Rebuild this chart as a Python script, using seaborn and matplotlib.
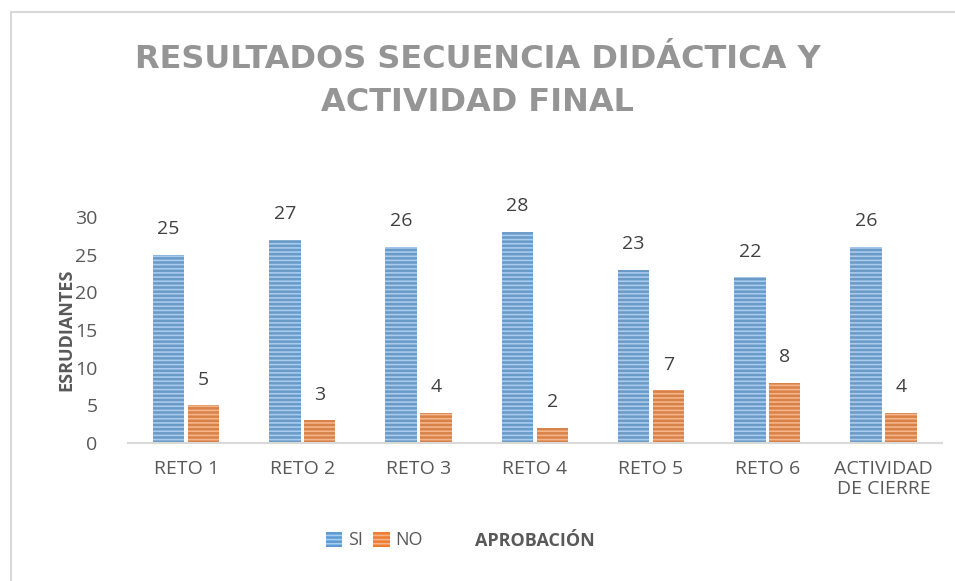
import pandas as pd
import numpy as np
import matplotlib.pyplot as plt
import seaborn as sns
from matplotlib.patches import Rectangle

# Data
categorias = ['RETO 1', 'RETO 2', 'RETO 3', 'RETO 4', 'RETO 5', 'RETO 6', 'ACTIVIDAD\nDE CIERRE']
si = [25, 27, 26, 28, 23, 22, 26]
no = [5, 3, 4, 2, 7, 8, 4]
series = ['SI', 'NO']

df = pd.DataFrame({
    'categoria': categorias * 2,
    'valor': si + no,
    'serie': ['SI'] * len(si) + ['NO'] * len(no),
})

sns.set_style('white')
plt.rcParams['font.family'] = ['Open Sans', 'DejaVu Sans']
plt.rcParams['hatch.linewidth'] = 1.2

fig = plt.figure(figsize=(9.55, 5.81), dpi=100)
ax = fig.add_axes([0.134, 0.2375, 0.852, 0.389])

colores = {'SI': '#5B9BD5', 'NO': '#ED7D31'}
rayas = {'SI': '#A9CBEE', 'NO': '#F6B48A'}

sns.barplot(data=df, x='categoria', y='valor', hue='serie', hue_order=series,
            palette=colores, width=0.6, gap=0.1, ax=ax, legend=False)

for cont, s in zip(ax.containers, series):
    for bar in cont:
        bar.set_hatch('----')
        bar.set_edgecolor(rayas[s])
        bar.set_linewidth(0)
    ax.bar_label(cont, padding=12, fontsize=14, color='#404040', clip_on=False)

ax.set_ylim(0, 30)
ax.set_xlim(-0.5, len(categorias) - 0.5)
ax.set_yticks(range(0, 31, 5))
ax.tick_params(axis='both', length=0, labelsize=14, labelcolor='#595959', pad=12)
ax.tick_params(axis='y', pad=22)
for side in ['top', 'right', 'left']:
    ax.spines[side].set_visible(False)
ax.spines['bottom'].set_color('#D9D9D9')
ax.spines['bottom'].set_linewidth(1.5)

ax.set_xlabel('')
ax.set_ylabel('ESRUDIANTES', fontsize=13, fontweight='bold', color='#595959', labelpad=0)
fig.text(0.56, 0.069, 'APROBACIÓN', fontsize=13, fontweight='bold', color='#595959',
         ha='center', va='center')

# legend
handles = [Rectangle((0, 0), 1, 1, facecolor=colores[s], edgecolor=rayas[s],
                     hatch='----', linewidth=0) for s in series]
fig.legend(handles, series, loc='center', bbox_to_anchor=(0.392, 0.07), ncol=2,
           frameon=False, fontsize=13, labelcolor='#595959', handlelength=0.9,
           handleheight=0.9, handletextpad=0.3, columnspacing=0.6)

fig.text(0.5, 1 - 81 / 581, 'RESULTADOS SECUENCIA DIDÁCTICA Y\nACTIVIDAD FINAL',
         ha='center', va='center', fontsize=23, fontweight='bold', color='#959595',
         family='DejaVu Sans', linespacing=1.5)

# chart border
fig.patches.append(Rectangle((11 / 955, -0.1), 1.2, 1 - 12 / 581 + 0.1, transform=fig.transFigure,
                             fill=False, edgecolor='#D9D9D9', linewidth=1.5))

fig.savefig('out.png', dpi=100)
